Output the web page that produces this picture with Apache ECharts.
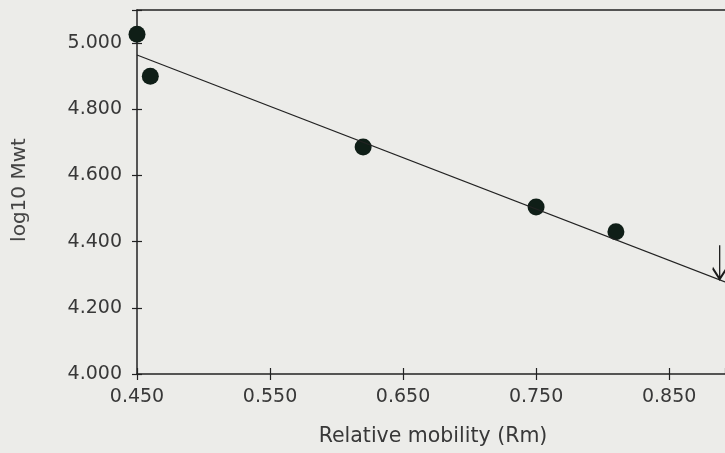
<!DOCTYPE html>
<html>
<head>
<meta charset="utf-8">
<script src="https://cdn.jsdelivr.net/npm/echarts@6/dist/echarts.min.js"></script>
<style>
  html, body { margin: 0; padding: 0; background: #ecece9; }
  #chart { width: 725px; height: 453px; }
</style>
</head>
<body>
<div id="chart"></div>
<script>
// measured points (Rm, log10 Mwt)
var rm = [0.450, 0.460, 0.620, 0.750, 0.810];
var logMwt = [5.027, 4.900, 4.686, 4.505, 4.430];

// fitted line ends
var fitX = [0.450, 0.892];
var fitY = [4.964, 4.278];

// unknown band (arrow)
var unknownRm = 0.888;
var unknownLog = 4.338;

var yTicks = ['4.000', '4.200', '4.400', '4.600', '4.800', '5.000'];
var xTicks = ['0.450', '0.550', '0.650', '0.750', '0.850'];

var chartDom = document.getElementById('chart');
var myChart = echarts.init(chartDom);
var option;

var font = 'DejaVu Sans';

function fmtY(v) {
  var s = v.toFixed(3);
  return yTicks.indexOf(s) >= 0 ? s : '';
}
function fmtX(v) {
  var s = v.toFixed(3);
  return xTicks.indexOf(s) >= 0 ? s : '';
}

var xMin = 0.45, xMax = 0.892;
var yMin = 4.0, yMax = 5.1;

option = {
  backgroundColor: '#ecece9',
  animation: false,
  grid: { left: 137, top: 10, width: 588, height: 364, show: false },
  xAxis: [
    {
      type: 'value', min: xMin, max: xMax, interval: 0.1,
      axisLine: { lineStyle: { color: '#222', width: 1.5 } },
      axisTick: { show: true, length: 6, lineStyle: { color: '#222', width: 1.2 } },
      axisLabel: { formatter: fmtX, color: '#383838', fontFamily: font, fontSize: 19, margin: 14, showMaxLabel: false },
      splitLine: { show: false }
    },
    {
      type: 'value', min: xMin, max: xMax, interval: 0.1, position: 'bottom',
      axisLine: { show: false },
      axisTick: { show: true, inside: true, length: 6, lineStyle: { color: '#222', width: 1.2 } },
      axisLabel: { show: false },
      splitLine: { show: false }
    },
    {
      type: 'value', min: xMin, max: xMax, position: 'top',
      axisLine: { show: true, lineStyle: { color: '#222', width: 1.5 } },
      axisTick: { show: false },
      axisLabel: { show: false },
      splitLine: { show: false }
    }
  ],
  yAxis: [
    {
      type: 'value', min: yMin, max: yMax, interval: 0.2,
      axisLine: { show: true, lineStyle: { color: '#222', width: 1.5 } },
      axisTick: { show: true, length: 5, lineStyle: { color: '#222', width: 1.2 } },
      axisLabel: { formatter: fmtY, color: '#383838', fontFamily: font, fontSize: 19, margin: 15 },
      splitLine: { show: false }
    },
    {
      type: 'value', min: yMin, max: yMax, interval: 0.2, position: 'left', offset: 0,
      axisLine: { show: false },
      axisTick: { show: true, inside: true, length: 5, lineStyle: { color: '#222', width: 1.2 } },
      axisLabel: { show: false },
      splitLine: { show: false }
    }
  ],
  graphic: [
    {
      type: 'text', x: 20, y: 190, rotation: Math.PI / 2,
      style: { text: 'log10 Mwt', fill: '#444', font: '20px "DejaVu Sans"', align: 'center', verticalAlign: 'middle' }
    },
    {
      type: 'text', x: 433, y: 437,
      style: { text: 'Relative mobility (Rm)', fill: '#383838', font: '20.5px "DejaVu Sans"', align: 'center', verticalAlign: 'middle' }
    }
  ],
  series: [
    {
      type: 'line',
      data: fitX.map(function (x, i) { return [x, fitY[i]]; }),
      symbol: 'none',
      lineStyle: { color: '#222', width: 1.2 },
      markPoint: {
        symbol: 'path://M7,0 L7,34 M0,23 L7,34 L14,23',
        symbolSize: [14, 34],
        itemStyle: { color: 'none', borderColor: '#1a1a1a', borderWidth: 2 },
        label: { show: false },
        data: [{ coord: [unknownRm, unknownLog] }]
      }
    },
    {
      type: 'scatter',
      data: rm.map(function (x, i) { return [x, logMwt[i]]; }),
      symbolSize: 17,
      itemStyle: { color: '#0f1e17', opacity: 1 }
    }
  ]
};

option && myChart.setOption(option);
</script>
</body>
</html>
